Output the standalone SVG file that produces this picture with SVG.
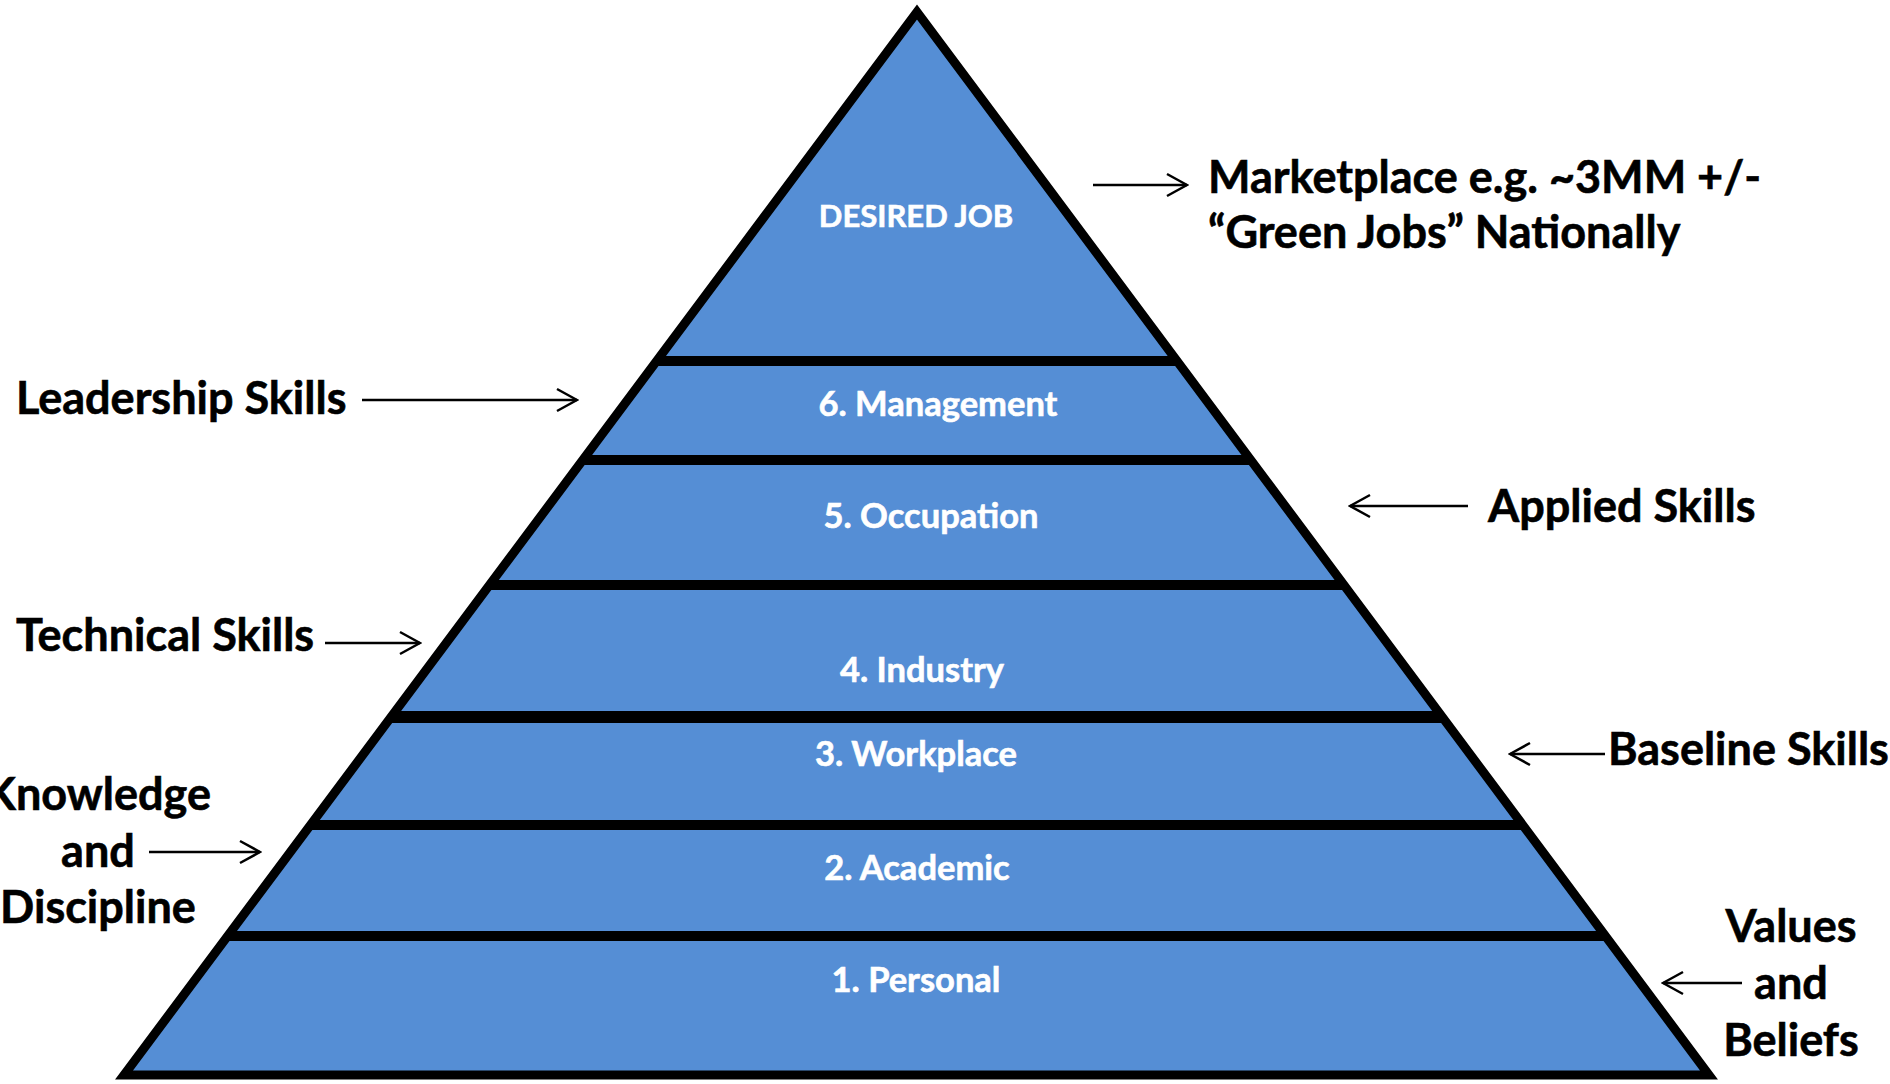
<svg xmlns="http://www.w3.org/2000/svg" width="1890" height="1084" viewBox="0 0 1890 1084">
<style>
.inner{font-family:Lato,"Open Sans","Liberation Sans",sans-serif;font-weight:700;font-size:34.5px;fill:#ffffff;stroke:#ffffff;stroke-width:0.6;text-anchor:middle}
.outer{font-family:Lato,"Open Sans","Liberation Sans",sans-serif;font-weight:700;font-size:45px;fill:#000000;stroke:#000000;stroke-width:0.6}
.mid{text-anchor:middle}
.band{stroke:#000;stroke-width:10;fill:none}
.arrow{stroke:#000;stroke-width:2.5;fill:none;marker-end:url(#head)}
</style>
<defs>
<marker id="head" viewBox="0 0 24 26" refX="22" refY="13" markerWidth="24" markerHeight="26" markerUnits="userSpaceOnUse" orient="auto">
<path d="M2,2 L22,13 L2,24" fill="none" stroke="#000" stroke-width="2.5"/>
</marker>
</defs>
<rect width="1890" height="1084" fill="#ffffff"/>
<g id="pyramid">
<polygon points="917,12 124,1075 1709,1075" fill="#558ED5" stroke="#000" stroke-width="9" stroke-linejoin="miter"/>
<line class="band" x1="657" y1="361" x2="1177" y2="361"/>
<line class="band" x1="582" y1="460" x2="1252" y2="460"/>
<line class="band" x1="490" y1="585" x2="1344" y2="585"/>
<line class="band" x1="391" y1="717" x2="1442" y2="717" style="stroke-width:12"/>
<line class="band" x1="310" y1="825" x2="1523" y2="825"/>
<line class="band" x1="228" y1="936" x2="1605" y2="936"/>
</g>
<g id="layer-desired-job"><text class="inner" x="916" y="227" style="font-size:31px">DESIRED JOB</text></g>
<g id="layer-6-management"><text class="inner" x="938" y="416">6. Management</text></g>
<g id="layer-5-occupation"><text class="inner" x="931" y="528">5. Occupation</text></g>
<g id="layer-4-industry"><text class="inner" x="922" y="682">4. Industry</text></g>
<g id="layer-3-workplace"><text class="inner" x="916" y="766">3. Workplace</text></g>
<g id="layer-2-academic"><text class="inner" x="917" y="880">2. Academic</text></g>
<g id="layer-1-personal"><text class="inner" x="916" y="992">1. Personal</text></g>
<g id="label-marketplace">
<text class="outer" x="1208" y="193">Marketplace e.g. ~3MM +/-</text>
<text class="outer" x="1208" y="248">“Green Jobs” Nationally</text>
</g>
<g id="label-leadership"><text class="outer" x="16" y="414">Leadership Skills</text></g>
<g id="label-applied"><text class="outer" x="1488" y="522">Applied Skills</text></g>
<g id="label-technical"><text class="outer" x="16" y="651">Technical Skills</text></g>
<g id="label-baseline"><text class="outer" x="1608" y="765">Baseline Skills</text></g>
<g id="label-knowledge">
<text class="outer mid" x="98" y="810">Knowledge</text>
<text class="outer mid" x="98" y="867">and</text>
<text class="outer mid" x="98" y="923">Discipline</text>
</g>
<g id="label-values">
<text class="outer mid" x="1791" y="942">Values</text>
<text class="outer mid" x="1791" y="999">and</text>
<text class="outer mid" x="1791" y="1056">Beliefs</text>
</g>
<g id="connectors">
<line class="arrow" x1="1093" y1="185" x2="1187" y2="185"/>
<line class="arrow" x1="362" y1="400" x2="577" y2="400"/>
<line class="arrow" x1="1468" y1="506" x2="1350" y2="506"/>
<line class="arrow" x1="325" y1="643" x2="420" y2="643"/>
<line class="arrow" x1="1605" y1="754" x2="1510" y2="754"/>
<line class="arrow" x1="149" y1="852" x2="260" y2="852"/>
<line class="arrow" x1="1742" y1="983" x2="1663" y2="983"/>
</g>
</svg>
